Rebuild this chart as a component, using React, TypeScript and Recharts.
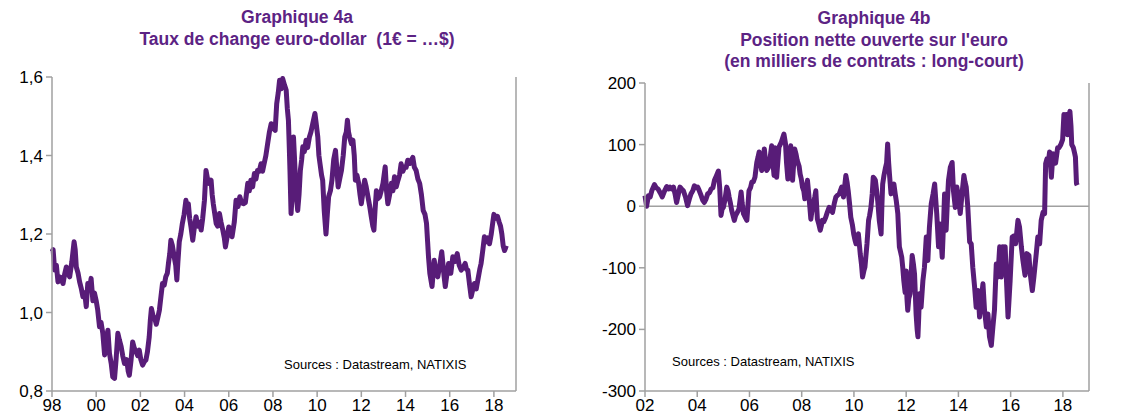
import React from "react";
import { LineChart, Line, XAxis, YAxis, ReferenceLine } from "recharts";

// Graphique 4a : EUR/USD (decimal year, value)
const eurYears = [
  1998.0, 1998.05, 1998.12, 1998.2, 1998.27, 1998.38, 1998.5, 1998.58, 1998.65, 1998.72, 1998.8, 1998.9,
  1999.0, 1999.05, 1999.1, 1999.18, 1999.25, 1999.33, 1999.4, 1999.48, 1999.55, 1999.62, 1999.7, 1999.77, 1999.85, 1999.92,
  2000.0, 2000.07, 2000.15, 2000.22, 2000.3, 2000.38, 2000.45, 2000.53, 2000.6, 2000.68, 2000.75, 2000.83, 2000.9, 2000.98,
  2001.05, 2001.13, 2001.2, 2001.28, 2001.38, 2001.45, 2001.5, 2001.58, 2001.65, 2001.72, 2001.8, 2001.88, 2001.95,
  2002.02, 2002.1, 2002.18, 2002.25, 2002.32, 2002.4, 2002.45, 2002.5, 2002.58, 2002.65, 2002.72, 2002.8, 2002.86, 2002.93,
  2003.0, 2003.08, 2003.15, 2003.22, 2003.27, 2003.33, 2003.38, 2003.45, 2003.53, 2003.6, 2003.65, 2003.7, 2003.76, 2003.83, 2003.9, 2003.98,
  2004.06, 2004.12, 2004.17, 2004.23, 2004.29, 2004.37, 2004.45, 2004.52, 2004.6, 2004.68, 2004.75, 2004.82, 2004.9, 2004.97,
  2005.04, 2005.1, 2005.2, 2005.25, 2005.3, 2005.37, 2005.43, 2005.5, 2005.58, 2005.65, 2005.73, 2005.8, 2005.85, 2005.92,
  2006.0, 2006.08, 2006.15, 2006.25, 2006.33, 2006.42, 2006.5, 2006.58, 2006.66, 2006.75, 2006.86, 2006.93,
  2007.0, 2007.08, 2007.16, 2007.23, 2007.3, 2007.38, 2007.46, 2007.53, 2007.6, 2007.68, 2007.76, 2007.84, 2007.92,
  2008.0, 2008.1, 2008.17, 2008.24, 2008.3, 2008.37, 2008.44, 2008.52, 2008.6, 2008.65, 2008.7, 2008.74, 2008.77, 2008.82, 2008.87, 2008.93, 2008.97,
  2009.02, 2009.07, 2009.12, 2009.18, 2009.24, 2009.3, 2009.35, 2009.42, 2009.5, 2009.57, 2009.65, 2009.72, 2009.8, 2009.9, 2009.96,
  2010.03, 2010.08, 2010.13, 2010.2, 2010.25, 2010.32, 2010.4, 2010.46, 2010.52, 2010.6, 2010.67, 2010.75, 2010.83, 2010.9, 2010.95,
  2011.02, 2011.1, 2011.18, 2011.25, 2011.32, 2011.37, 2011.42, 2011.47, 2011.55, 2011.62, 2011.68, 2011.73, 2011.8, 2011.88, 2011.94,
  2012.0, 2012.08, 2012.15, 2012.22, 2012.3, 2012.38, 2012.45, 2012.52, 2012.57, 2012.62, 2012.68, 2012.75, 2012.83, 2012.9, 2012.98,
  2013.03, 2013.08, 2013.14, 2013.2, 2013.28, 2013.36, 2013.43, 2013.5, 2013.58, 2013.66, 2013.73, 2013.8, 2013.88, 2013.96,
  2014.03, 2014.1, 2014.2, 2014.28, 2014.33, 2014.4, 2014.48, 2014.56, 2014.64, 2014.72, 2014.8, 2014.88, 2014.95,
  2015.0, 2015.04, 2015.1, 2015.2, 2015.25, 2015.3, 2015.38, 2015.46, 2015.55, 2015.64, 2015.7, 2015.75, 2015.8, 2015.88, 2015.95,
  2016.05, 2016.14, 2016.24, 2016.34, 2016.43, 2016.52, 2016.6, 2016.7, 2016.76, 2016.82, 2016.9, 2016.97,
  2017.05, 2017.12, 2017.2, 2017.3, 2017.36, 2017.42, 2017.5, 2017.57, 2017.64, 2017.72, 2017.8, 2017.88, 2017.95,
  2018.0, 2018.08, 2018.16, 2018.24, 2018.3, 2018.36, 2018.42, 2018.48, 2018.53, 2018.56,
];
const eurValues = [
  1.155, 1.16, 1.108, 1.12, 1.078, 1.09, 1.074, 1.1, 1.116, 1.1, 1.091, 1.13,
  1.18, 1.16, 1.116, 1.1, 1.078, 1.06, 1.04, 1.05, 1.015, 1.074, 1.06, 1.087, 1.03, 1.05,
  1.03, 1.006, 0.964, 0.975, 0.947, 0.892, 0.93, 0.955, 0.896, 0.87, 0.836, 0.832, 0.88, 0.947,
  0.93, 0.913, 0.89, 0.87, 0.88, 0.85, 0.84, 0.88, 0.925, 0.91, 0.9, 0.89, 0.904,
  0.88, 0.866, 0.875, 0.879, 0.9, 0.938, 0.98, 1.01, 0.99, 0.985, 0.97, 0.99, 1.006, 1.04,
  1.074, 1.07, 1.091, 1.1, 1.125, 1.15, 1.184, 1.17, 1.142, 1.12, 1.083, 1.13, 1.18, 1.2, 1.227, 1.25,
  1.286, 1.27, 1.277, 1.24, 1.218, 1.184, 1.22, 1.244, 1.22, 1.23, 1.21, 1.24, 1.286, 1.362,
  1.34, 1.329, 1.337, 1.3, 1.277, 1.25, 1.227, 1.22, 1.252, 1.23, 1.21, 1.19, 1.167, 1.19,
  1.218, 1.2, 1.193, 1.23, 1.286, 1.27, 1.295, 1.28, 1.277, 1.28, 1.329, 1.31,
  1.337, 1.32, 1.354, 1.34, 1.362, 1.36, 1.379, 1.36, 1.379, 1.4, 1.43, 1.46, 1.481,
  1.47, 1.464, 1.532, 1.56, 1.592, 1.57, 1.596, 1.58, 1.566, 1.52, 1.49, 1.42, 1.362, 1.252, 1.3, 1.447, 1.4,
  1.337, 1.29, 1.26, 1.3, 1.362, 1.39, 1.422, 1.41, 1.439, 1.42, 1.447, 1.46, 1.481, 1.507, 1.48,
  1.447, 1.4, 1.379, 1.35, 1.337, 1.26, 1.2, 1.25, 1.295, 1.31, 1.337, 1.39, 1.413, 1.36, 1.32,
  1.34, 1.362, 1.4, 1.447, 1.46, 1.49, 1.46, 1.447, 1.43, 1.439, 1.4, 1.337, 1.35, 1.329, 1.3,
  1.277, 1.31, 1.337, 1.32, 1.295, 1.27, 1.244, 1.22, 1.21, 1.26, 1.31, 1.29, 1.295, 1.31, 1.329,
  1.35, 1.371, 1.31, 1.277, 1.3, 1.329, 1.31, 1.346, 1.32, 1.337, 1.35, 1.379, 1.36, 1.371,
  1.37, 1.388, 1.38, 1.39, 1.395, 1.37, 1.362, 1.34, 1.329, 1.3, 1.26, 1.25, 1.227,
  1.18, 1.142, 1.1, 1.066, 1.1, 1.133, 1.1, 1.091, 1.12, 1.155, 1.12, 1.09, 1.066, 1.1, 1.125,
  1.1, 1.142, 1.13, 1.15, 1.12, 1.108, 1.115, 1.125, 1.11, 1.108, 1.07, 1.04,
  1.06, 1.074, 1.06, 1.091, 1.11, 1.125, 1.16, 1.193, 1.18, 1.19, 1.175, 1.2, 1.23,
  1.25, 1.24, 1.245, 1.23, 1.22, 1.2, 1.17, 1.158, 1.165, 1.17,
];

// Graphique 4b : position nette ouverte (milliers de contrats)
const posYears = [
  2002.0, 2002.06, 2002.13, 2002.2, 2002.26, 2002.36, 2002.43, 2002.5, 2002.58, 2002.66, 2002.75, 2002.83, 2002.9, 2002.96,
  2003.03, 2003.09, 2003.15, 2003.21, 2003.28, 2003.34, 2003.4, 2003.47, 2003.55, 2003.63, 2003.7, 2003.76, 2003.83, 2003.89, 2003.96,
  2004.02, 2004.08, 2004.15, 2004.21, 2004.27, 2004.34, 2004.4, 2004.47, 2004.53, 2004.6, 2004.66, 2004.74, 2004.81, 2004.86, 2004.91, 2004.95,
  2005.0, 2005.06, 2005.13, 2005.18, 2005.22, 2005.27, 2005.32, 2005.37, 2005.42, 2005.47, 2005.51, 2005.56, 2005.6, 2005.64, 2005.68, 2005.72, 2005.77, 2005.84, 2005.9, 2005.94, 2005.98,
  2006.04, 2006.09, 2006.15, 2006.21, 2006.28, 2006.33, 2006.37, 2006.42, 2006.47, 2006.52, 2006.57, 2006.62, 2006.66, 2006.72, 2006.76, 2006.81, 2006.85, 2006.9, 2006.94, 2006.98,
  2007.04, 2007.13, 2007.22, 2007.32, 2007.38, 2007.42, 2007.47, 2007.53, 2007.58, 2007.65, 2007.73, 2007.78, 2007.83, 2007.9, 2007.94, 2007.98,
  2008.03, 2008.08, 2008.12, 2008.17, 2008.22, 2008.28, 2008.35, 2008.4, 2008.45, 2008.5, 2008.54, 2008.6, 2008.66, 2008.71, 2008.75, 2008.79, 2008.85, 2008.92, 2008.98,
  2009.05, 2009.1, 2009.18, 2009.25, 2009.31, 2009.38, 2009.44, 2009.53, 2009.6, 2009.69, 2009.74, 2009.78, 2009.83, 2009.88, 2009.94, 2009.99,
  2010.04, 2010.08, 2010.13, 2010.17, 2010.24, 2010.29, 2010.33, 2010.38, 2010.42, 2010.46, 2010.5, 2010.56, 2010.6, 2010.65, 2010.7, 2010.74, 2010.78, 2010.82, 2010.87, 2010.91, 2010.97,
  2011.04, 2011.07, 2011.1, 2011.15, 2011.2, 2011.25, 2011.29, 2011.33, 2011.36, 2011.42, 2011.48, 2011.53, 2011.58, 2011.62, 2011.68, 2011.71, 2011.74, 2011.79, 2011.83, 2011.87, 2011.91, 2011.96,
  2012.0, 2012.03, 2012.06, 2012.1, 2012.15, 2012.19, 2012.23, 2012.28, 2012.32, 2012.38, 2012.42, 2012.45, 2012.48, 2012.51, 2012.57, 2012.64, 2012.7, 2012.77, 2012.83, 2012.89, 2012.96,
  2013.03, 2013.09, 2013.17, 2013.24, 2013.3, 2013.38, 2013.43, 2013.47, 2013.53, 2013.58, 2013.62, 2013.69, 2013.76, 2013.81, 2013.88, 2013.94,
  2014.0, 2014.07, 2014.15, 2014.21, 2014.25, 2014.3, 2014.36, 2014.43, 2014.49, 2014.55, 2014.62, 2014.68, 2014.75, 2014.81, 2014.87, 2014.94,
  2015.0, 2015.07, 2015.13, 2015.19, 2015.26, 2015.32, 2015.38, 2015.45, 2015.51, 2015.58, 2015.64, 2015.7, 2015.75, 2015.79, 2015.85, 2015.9, 2015.98,
  2016.06, 2016.13, 2016.19, 2016.28, 2016.34, 2016.41, 2016.47, 2016.55, 2016.62, 2016.7, 2016.75, 2016.83, 2016.89, 2016.98,
  2017.04, 2017.11, 2017.17, 2017.24, 2017.3, 2017.34, 2017.39, 2017.44, 2017.49, 2017.56, 2017.62, 2017.72, 2017.8, 2017.85, 2017.92, 2017.99,
  2018.04, 2018.1, 2018.13, 2018.18, 2018.23, 2018.27, 2018.31, 2018.34, 2018.4, 2018.45, 2018.48, 2018.52, 2018.55,
];
const posValues = [
  17, 0, 17, 15, 25, 35, 30, 28, 22, 15, 25, 32, 28, 31,
  28, 31, 20, 6, 20, 31, 28, 25, 15, 1, 12, 20, 25, 33, 30,
  31, 25, 17, 10, 6, 12, 20, 22, 28, 30, 42, 50, 57, 30, -15, -5,
  -2, 10, 31, 25, 15, 5, -7, -15, -23, -15, -12, -8, -4, 10, 23, 5, -12, -18, -23, 0, 25,
  30, 39, 40, 47, 71, 80, 88, 70, 58, 75, 93, 70, 58, 62, 69, 85, 98, 70, 50, 95,
  47, 96, 104, 117, 101, 70, 44, 80, 98, 42, 93, 85, 74, 65, 52, 45,
  31, 25, 12, 30, 42, 15, -21, -5, 4, 15, 25, -21, -30, -39, -32, -23, -25, -18, -10,
  -2, -5, -10, 5, 15, 18, 20, 31, 15, 50, 38, 25, 5, -18, -30, -45,
  -55, -61, -50, -45, -77, -95, -115, -105, -99, -80, -61, -23, -15, -2, 20, 47, 45, 42, 25, 9, -23,
  -45, 0, 36, 50, 61, 70, 101, 70, 52, 20, 30, 36, 20, 9, -12, -40, -66, -75, -83, -100, -121, -140,
  -105, -150, -169, -150, -142, -110, -80, -95, -110, -175, -200, -212, -180, -142, -164, -121, -99, -50, -88, -34, 4,
  20, 36, -12, -66, -29, -83, -30, 20, -39, 10, 42, 63, 71, 25, -2, 31,
  15, -12, 25, 50, 40, 31, -2, -58, -61, -99, -131, -164, -137, -180, -153, -126,
  -169, -196, -175, -212, -226, -196, -169, -94, -115, -66, -115, -66, -70, -66, -130, -180, -121,
  -50, -48, -61, -23, -34, -66, -88, -112, -77, -80, -110, -137, -115, -77,
  -50, -61, -23, -10, -12, 69, 77, 70, 88, 47, 85, 70, 95, 95, 100, 108,
  149, 140, 149, 116, 145, 154, 130, 100, 95, 86, 80, 37, 34,
];

const eurTicksX = [1998, 2000, 2002, 2004, 2006, 2008, 2010, 2012, 2014, 2016, 2018];
const eurTicksY = [0.8, 1.0, 1.2, 1.4, 1.6];
const posTicksX = [2002, 2004, 2006, 2008, 2010, 2012, 2014, 2016, 2018];
const posTicksY = [-300, -200, -100, 0, 100, 200];

const eurData = eurYears.map((t, i) => ({ t, v: eurValues[i] }));
const posData = posYears.map((t, i) => ({ t, v: posValues[i] }));

const LINE = "#581c78";
const TITLE = "#5c2384";
const AXIS = "#a0a0a0";

const yearLabel = (t: number) => String(Math.round(t) % 100).padStart(2, "0");

const axisProps = {
  stroke: AXIS,
  axisLine: { stroke: AXIS, strokeWidth: 1.5 },
  tickLine: { stroke: AXIS, strokeWidth: 1.5 },
  tickSize: 6,
  tickMargin: 3,
  tick: { fill: "#000", fontSize: 17 },
  interval: 0 as const,
};

function EurChart() {
  const fmt = (v: number) => v.toFixed(1).replace(".", ",");
  return (
    <LineChart width={560} height={420} data={eurData} margin={{ top: 77, right: 0, bottom: 0, left: 0 }}>
      <XAxis
        dataKey="t"
        type="number"
        domain={[1998, 2019]}
        ticks={eurTicksX}
        tickFormatter={yearLabel}
        height={29}
        {...axisProps}
        tickMargin={2}
      />
      <YAxis yAxisId="l" domain={[0.8, 1.6]} ticks={eurTicksY} tickFormatter={fmt} width={52} {...axisProps} />
      <YAxis
        yAxisId="r"
        orientation="right"
        domain={[0.8, 1.6]}
        ticks={eurTicksY}
        tickFormatter={fmt}
        width={44}
        {...axisProps}
      />
      <Line
        yAxisId="l"
        type="linear"
        dataKey="v"
        stroke={LINE}
        strokeWidth={5}
        strokeLinejoin="round"
        dot={false}
        isAnimationActive={false}
      />
    </LineChart>
  );
}

function PosChart() {
  return (
    <LineChart width={556} height={420} data={posData} margin={{ top: 83, right: 0, bottom: 0, left: 0 }}>
      <XAxis
        dataKey="t"
        type="number"
        domain={[2002, 2019]}
        ticks={posTicksX}
        tickFormatter={yearLabel}
        height={29}
        {...axisProps}
        tickMargin={2}
      />
      <YAxis yAxisId="l" domain={[-300, 200]} ticks={posTicksY} width={65} {...axisProps} />
      <YAxis yAxisId="r" orientation="right" domain={[-300, 200]} ticks={posTicksY} width={47} {...axisProps} />
      <ReferenceLine yAxisId="l" y={0} stroke={AXIS} strokeWidth={1.5} />
      <Line
        yAxisId="l"
        type="linear"
        dataKey="v"
        stroke={LINE}
        strokeWidth={5}
        strokeLinejoin="round"
        dot={false}
        isAnimationActive={false}
      />
    </LineChart>
  );
}

const titleStyle: React.CSSProperties = {
  position: "absolute",
  textAlign: "center",
  color: TITLE,
  fontWeight: "bold",
  fontSize: 17.5,
  lineHeight: "21.5px",
  whiteSpace: "nowrap",
};

const sourceStyle: React.CSSProperties = {
  position: "absolute",
  fontSize: 13,
  lineHeight: "15px",
  color: "#000",
  whiteSpace: "nowrap",
};

export default function App() {
  return (
    <div
      style={{
        position: "absolute",
        left: 0,
        top: 0,
        width: 1136,
        height: 420,
        background: "#fff",
        overflow: "hidden",
        fontFamily: '"Liberation Sans", Arial, sans-serif',
      }}
    >
      <div style={{ position: "absolute", left: 0, top: 0 }}>
        <EurChart />
      </div>
      <div style={{ position: "absolute", left: 580, top: 0 }}>
        <PosChart />
      </div>
      <div style={{ ...titleStyle, left: 97, width: 400, top: 7 }}>
        Graphique 4a
        <br />
        Taux de change euro-dollar&nbsp; (1€ = …$)
      </div>
      <div style={{ ...titleStyle, left: 674, width: 400, top: 8 }}>
        Graphique 4b
        <br />
        Position nette ouverte sur l'euro
        <br />
        (en milliers de contrats : long-court)
      </div>
      <div style={{ ...sourceStyle, left: 284, top: 357 }}>Sources : Datastream, NATIXIS</div>
      <div style={{ ...sourceStyle, left: 672, top: 354 }}>Sources : Datastream, NATIXIS</div>
    </div>
  );
}
